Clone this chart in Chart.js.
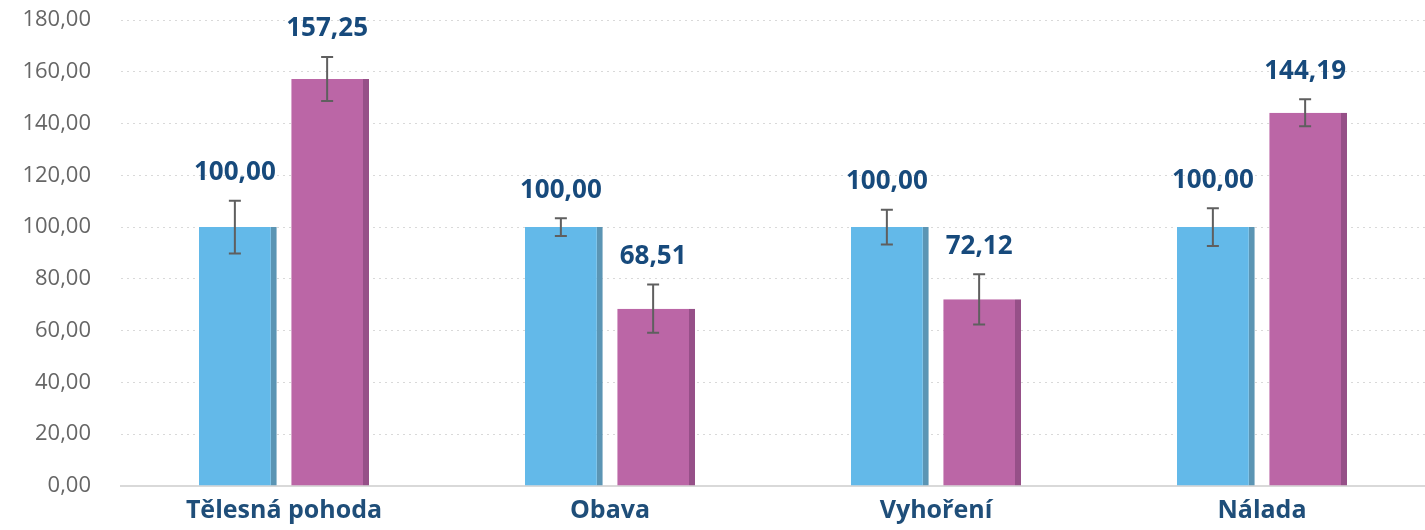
<!DOCTYPE html>
<html>
<head>
<meta charset="utf-8">
<script src="https://cdn.jsdelivr.net/npm/chart.js@4/dist/chart.umd.min.js"></script>
<style>
  html, body { margin: 0; padding: 0; background: #fff; }
  #wrap { position: relative; width: 1425px; height: 530px; }
</style>
</head>
<body>
<div id="wrap"><canvas id="chart"></canvas></div>
<script>
const categories = ['Tělesná pohoda', 'Obava', 'Vyhoření', 'Nálada']
const baseValues = [100.00, 100.00, 100.00, 100.00]
const afterValues = [157.25, 68.51, 72.12, 144.19]
const baseErrors = [10.2, 3.4, 6.7, 7.3]
const afterErrors = [8.5, 9.3, 9.7, 5.2]
const yTicks = [0, 20, 40, 60, 80, 100, 120, 140, 160, 180]

const fmt = v => v.toFixed(2).replace('.', ',')

// error bars + value labels drawn on top of the bars
const errorBarPlugin = {
  id: 'errorBars',
  afterDatasetsDraw(chart) {
    const { ctx } = chart
    const y = chart.scales.y
    chart.data.datasets.forEach((ds, di) => {
      const meta = chart.getDatasetMeta(di)
      meta.data.forEach((bar, i) => {
        const v = ds.data[i]
        const e = ds.errors[i]
        const cx = bar.x - 3
        const yTop = y.getPixelForValue(v + e)
        const yBot = y.getPixelForValue(v - e)
        ctx.save()
        ctx.strokeStyle = '#5f5f5f'
        ctx.lineWidth = 2
        ctx.beginPath()
        ctx.moveTo(cx, yTop); ctx.lineTo(cx, yBot)
        ctx.moveTo(cx - 6, yTop); ctx.lineTo(cx + 6, yTop)
        ctx.moveTo(cx - 6, yBot); ctx.lineTo(cx + 6, yBot)
        ctx.stroke()

        ctx.fillStyle = '#174a7c'
        ctx.font = 'bold 26px "Open Sans"'
        ctx.textAlign = 'center'
        ctx.textBaseline = 'middle'
        ctx.fillText(fmt(v), cx, yTop - 28)
        ctx.restore()
      })
    })
  }
}

new Chart(document.getElementById('chart'), {
  type: 'bar',
  data: {
    labels: categories,
    datasets: [
      {
        label: 'A',
        data: baseValues,
        errors: baseErrors,
        backgroundColor: '#63b9e9',
        borderColor: '#5b95b4',
        borderWidth: { left: 0, right: 6, top: 0, bottom: 0 },
        borderSkipped: false
      },
      {
        label: 'B',
        data: afterValues,
        errors: afterErrors,
        backgroundColor: '#bb66a6',
        borderColor: '#965088',
        borderWidth: { left: 0, right: 6, top: 0, bottom: 0 },
        borderSkipped: false
      }
    ]
  },
  options: {
    responsive: true,
    maintainAspectRatio: false,
    animation: false,
    categoryPercentage: 0.566,
    barPercentage: 0.843,
    layout: { padding: { top: 20, right: 0, bottom: 0, left: 0 } },
    plugins: {
      legend: { display: false },
      tooltip: { enabled: false }
    },
    scales: {
      x: {
        grid: { display: false, drawTicks: false },
        border: { display: true, color: '#d9d9d9', width: 2 },
        afterFit: axis => { axis.height = 44 },
        ticks: {
          color: '#1f4e79',
          font: { family: 'Open Sans', size: 25, weight: 'bold' },
          padding: 10
        }
      },
      y: {
        min: 0,
        max: 180,
        afterBuildTicks: axis => { axis.ticks = yTicks.map(v => ({ value: v })) },
        afterFit: axis => { axis.width = 121 },
        grid: {
          color: '#d9d9d9',
          lineWidth: 1,
          drawTicks: true,
          tickLength: 30,
          tickColor: 'rgba(0,0,0,0)'
        },
        border: { display: false, dash: [2, 4] },
        ticks: {
          color: '#666666',
          font: { family: 'Open Sans', size: 22 },
          padding: 0,
          callback: v => fmt(v)
        }
      }
    }
  },
  plugins: [errorBarPlugin]
})
</script>
</body>
</html>
